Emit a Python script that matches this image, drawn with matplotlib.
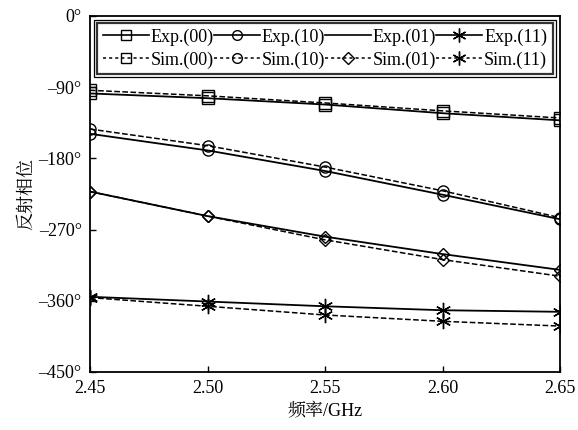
import matplotlib
matplotlib.use("Agg")
import matplotlib.pyplot as plt
from matplotlib.lines import Line2D
from matplotlib.patches import Rectangle

freq = [2.45, 2.50, 2.55, 2.60, 2.65]
exp_00 = [-98, -104, -112, -123, -132]
sim_00 = [-94, -101, -110, -120, -129]
exp_10 = [-149, -170, -196, -226, -257]
sim_10 = [-143, -164, -191, -221, -255]
exp_01 = [-222, -253, -279, -301, -321]
sim_01 = [-222, -253, -283, -308, -329]
exp_11 = [-355, -361, -367, -372, -374]
sim_11 = [-356, -367, -378, -386, -392]
yticks = [0, -90, -180, -270, -360, -450]

plt.rcParams.update({"font.family": ["Liberation Serif", "Noto Sans CJK SC"],
                     "font.size": 13, "axes.linewidth": 1.3})
cjk = ["Noto Serif CJK SC", "Noto Sans CJK SC"]
ast = (6, 2, 0)  # six-armed asterisk marker

fig = plt.figure(figsize=(5.78, 4.30), dpi=100)
ax = fig.add_axes([0.1557, 0.135, 0.8133, 0.828])

mk = dict(color="black", mfc="none", markersize=8, mew=1.0)
ax.plot(freq, exp_00, "-", marker="s", lw=1.3, **mk)
ax.plot(freq, sim_00, "--", marker="s", lw=1.1, **mk)
ax.plot(freq, exp_10, "-", marker="o", lw=1.3, **mk)
ax.plot(freq, sim_10, "--", marker="o", lw=1.1, **mk)
ax.plot(freq, exp_01, "-", marker="D", lw=1.3, **dict(mk, markersize=6.5))
ax.plot(freq, sim_01, "--", marker="D", lw=1.1, **dict(mk, markersize=6.5))
ax.plot(freq, exp_11, "-", marker=ast, lw=1.3, **dict(mk, markersize=11))
ax.plot(freq, sim_11, "--", marker=ast, lw=1.1, **dict(mk, markersize=11))

ax.set_xlim(2.45, 2.65)
ax.set_ylim(-450, 0)
ax.set_xticks(freq)
ax.set_xticklabels([f"{f:.2f}" for f in freq])
ax.set_yticks(yticks)
ax.set_yticklabels([f"{t}°".replace("-", "\u2013") for t in yticks])
ax.tick_params(direction="in", length=4, width=1.0, pad=6)
ax.set_xlabel("频率/GHz", family=["Liberation Serif"] + cjk, labelpad=4)
ax.set_ylabel("反射相位", family=cjk, labelpad=2)

lm = dict(color="black", mfc="none", markersize=7, mew=1.0)
handles = [
    Line2D([], [], ls="-", marker="s", lw=1.2, **lm),
    Line2D([], [], ls=(0, (2, 2)), marker="s", lw=1.1, **lm),
    Line2D([], [], ls="-", marker="o", lw=1.2, **lm),
    Line2D([], [], ls=(0, (2, 2)), marker="o", lw=1.1, **lm),
    Line2D([], [], ls="-", lw=1.2, color="black"),
    Line2D([], [], ls=(0, (2, 2)), marker="D", lw=1.1, **dict(lm, markersize=6)),
    Line2D([], [], ls="-", marker=ast, lw=1.2, **dict(lm, markersize=10)),
    Line2D([], [], ls=(0, (2, 2)), marker=ast, lw=1.1, **dict(lm, markersize=10)),
]
labels = ["Exp.(00)", "Sim.(00)", "Exp.(10)", "Sim.(10)",
          "Exp.(01)", "Sim.(01)", "Exp.(11)", "Sim.(11)"]
leg = ax.legend(handles, labels, ncol=4, loc="upper center", bbox_to_anchor=(0.5, 0.995),
                columnspacing=0.0, handlelength=2.55, handletextpad=0.1, labelspacing=0.3,
                borderpad=0.3, borderaxespad=0.3, fancybox=False, fontsize=13)
frame = leg.get_frame()
frame.set_edgecolor("black")
frame.set_linewidth(1.6)

fig.canvas.draw()
bb = leg.get_window_extent().transformed(fig.transFigure.inverted())
pad_x, pad_y = 3 / 578, 3 / 430
fig.patches.append(Rectangle((bb.x0 - pad_x, bb.y0 - pad_y), bb.width + 2 * pad_x,
                             bb.height + 2 * pad_y, transform=fig.transFigure,
                             fill=False, edgecolor="black", linewidth=0.9, zorder=10))

fig.savefig("out.png", dpi=100)
